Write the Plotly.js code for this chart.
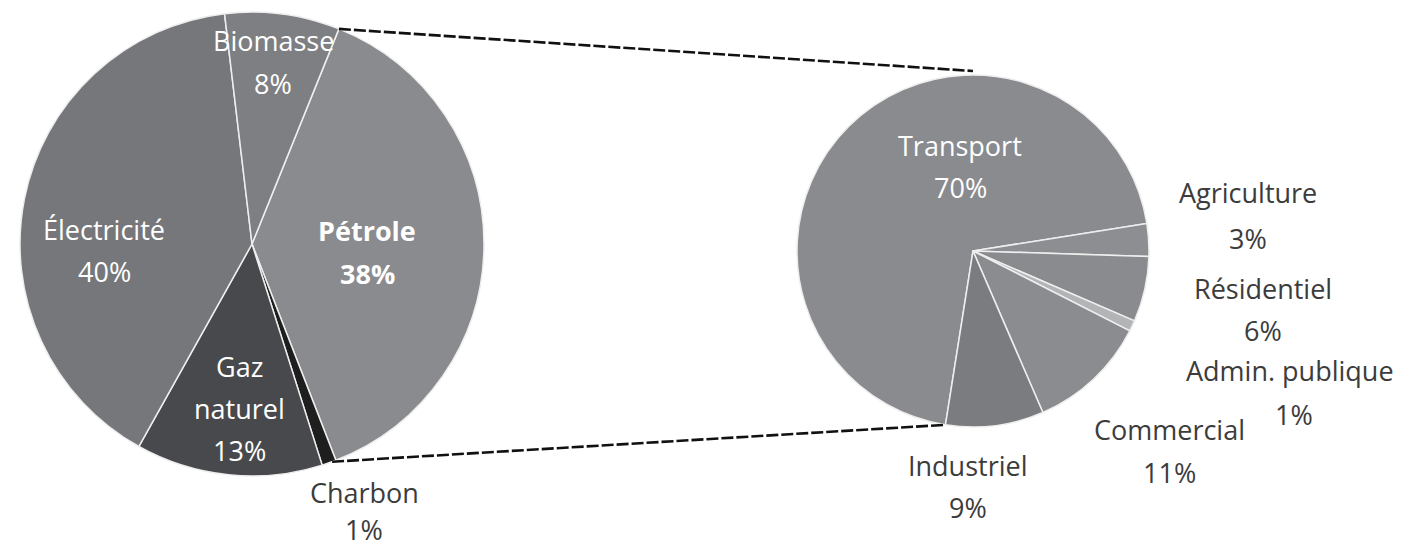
<!DOCTYPE html>
<html>
<head>
<meta charset="utf-8">
<script src="https://cdn.plot.ly/plotly-3.0.1.min.js"></script>
<style>html,body{margin:0;padding:0;background:#fff;}#chart{width:1410px;height:550px;}</style>
</head>
<body>
<div id="chart"></div>
<script>
// ---- data ----
var sourceLabels = ['Pétrole', 'Charbon', 'Gaz naturel', 'Électricité', 'Biomasse'];
var sourceValues = [38, 1, 13, 40, 8];
var sourceColors = ['#8a8b8e', '#1e1e1f', '#48494c', '#76777a', '#7e7f82'];

var sectorLabels = ['Transport', 'Agriculture', 'Résidentiel', 'Admin. publique', 'Commercial', 'Industriel'];
var sectorValues = [70, 3, 6, 1, 11, 9];
var sectorColors = ['#8a8b8e', '#8d8e91', '#8a8b8e', '#b3b4b6', '#8b8c8f', '#7b7c7f'];

// ---- geometry (pixels) ----
var W = 1410, H = 550;
var leftPie = {cx: 252, cy: 244, r: 232, rotation: 22};
var rightPie = {cx: 973, cy: 251, r: 176, rotation: 189};

// label anchor points (pixels)
var sourceLabelPos = {
  'Pétrole':     {x: 367, y: [231, 273], color: '#ffffff', bold: true},
  'Charbon':     {x: 364, y: [492, 529], color: '#3c3c3c'},
  'Gaz naturel': {x: 239, y: [366, 408, 450], color: '#ffffff'},
  'Électricité': {x: 104, y: [229, 271], color: '#ffffff'},
  'Biomasse':    {x: 273, y: [40, 84], color: '#ffffff'}
};
var sectorLabelPos = {
  'Transport':       {x: 960, y: [145, 187], color: '#ffffff'},
  'Agriculture':     {x: 1248, y: [193, 238], color: '#3c3c3c'},
  'Résidentiel':     {x: 1263, y: [288, 330], color: '#3c3c3c'},
  'Admin. publique': {x: 1290, y: [370], color: '#3c3c3c', valueAt: {x: 1294, y: 414}},
  'Commercial':      {x: 1169, y: [429, 472], color: '#3c3c3c'},
  'Industriel':      {x: 968, y: [465, 507], color: '#3c3c3c'}
};

function px2x(p) { return p / W; }
function py2y(p) { return 1 - p / H; }
function domainOf(g) {
  return {x: [px2x(g.cx - g.r), px2x(g.cx + g.r)], y: [py2y(g.cy + g.r), py2y(g.cy - g.r)]};
}
function pointAt(g, deg, rr) {
  var a = deg * Math.PI / 180;
  var R = rr === undefined ? g.r : rr;
  return [g.cx + R * Math.sin(a), g.cy - R * Math.cos(a)];
}
function total(v) { return v.reduce(function (s, x) { return s + x; }, 0); }

var FONT = 'Open Sans, Noto Sans, sans-serif';
var FS = 27;

var traces = [
  {
    type: 'pie', labels: sourceLabels, values: sourceValues, sort: false,
    direction: 'clockwise', rotation: leftPie.rotation, domain: domainOf(leftPie),
    marker: {colors: sourceColors, line: {color: '#eeeeee', width: 1.5}},
    textinfo: 'none', hoverinfo: 'label+percent', showlegend: false
  },
  {
    type: 'pie', labels: sectorLabels, values: sectorValues, sort: false,
    direction: 'clockwise', rotation: rightPie.rotation, domain: domainOf(rightPie),
    marker: {colors: sectorColors, line: {color: '#eeeeee', width: 1.5}},
    textinfo: 'none', hoverinfo: 'label+percent', showlegend: false
  }
];

var annotations = [];
function addLabels(labels, values, posMap) {
  labels.forEach(function (lab, i) {
    var p = posMap[lab];
    var lines = lab === 'Gaz naturel' ? ['Gaz', 'naturel'] : [lab];
    lines.push(values[i] + '%');
    lines.forEach(function (t, k) {
      var x = p.x, y = p.y[k];
      if (k === lines.length - 1 && p.valueAt) { x = p.valueAt.x; y = p.valueAt.y; }
      annotations.push({
        xref: 'paper', yref: 'paper', x: px2x(x), y: py2y(y),
        xanchor: 'center', yanchor: 'middle', showarrow: false,
        text: p.bold ? '<b>' + t + '</b>' : t,
        font: {family: FONT, size: FS, color: p.color}
      });
    });
  });
}
addLabels(sourceLabels, sourceValues, sourceLabelPos);
addLabels(sectorLabels, sectorValues, sectorLabelPos);

// connector lines: from the Pétrole slice edges to the sector pie
var tot = total(sourceValues);
var petStart = leftPie.rotation;
var petEnd = leftPie.rotation + 360 * sourceValues[0] / tot;
var a1 = pointAt(leftPie, petStart), b1 = pointAt(rightPie, 0, rightPie.r + 4);
var a2 = pointAt(leftPie, petEnd + 1), b2 = pointAt(rightPie, rightPie.rotation, rightPie.r);
var lineStyle = {color: '#111111', width: 2.6, dash: '12px,3px'};
var shapes = [
  {type: 'line', xref: 'paper', yref: 'paper', x0: px2x(a1[0]), y0: py2y(a1[1]), x1: px2x(b1[0]), y1: py2y(b1[1]), line: lineStyle},
  {type: 'line', xref: 'paper', yref: 'paper', x0: px2x(a2[0]), y0: py2y(a2[1]), x1: px2x(b2[0]), y1: py2y(b2[1]), line: lineStyle}
];

var layout = {
  width: W, height: H,
  margin: {l: 0, r: 0, t: 0, b: 0},
  paper_bgcolor: '#ffffff',
  showlegend: false,
  annotations: annotations,
  shapes: shapes
};

Plotly.newPlot('chart', traces, layout, {displayModeBar: false, staticPlot: true});
</script>
</body>
</html>
